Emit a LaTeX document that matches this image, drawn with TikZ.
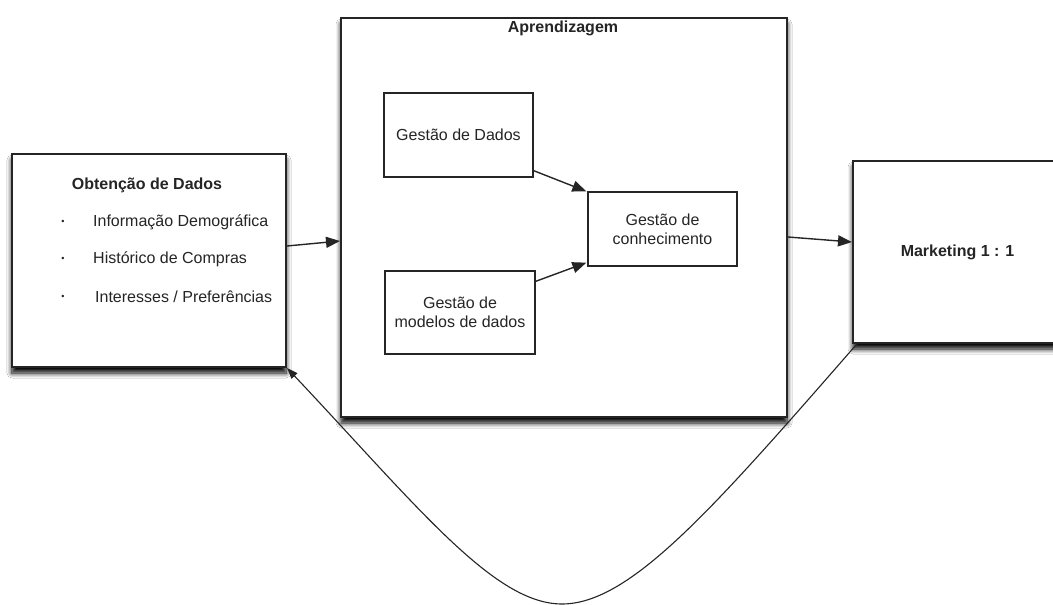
\documentclass[tikz,border=0pt]{standalone}
\usepackage{fontspec}
\setmainfont{Liberation Sans}
\usetikzlibrary{arrows.meta,shadows.blur}
\definecolor{ink}{HTML}{252525}
\begin{document}
\begin{tikzpicture}[x=1pt,y=-1pt,
  font=\fontsize{16}{19}\selectfont,
  outerbox/.style={draw=ink,line width=2pt,fill=white,rectangle,inner sep=0pt,
     blur shadow={shadow xshift=0pt,shadow yshift=-6pt,shadow blur radius=5pt,shadow opacity=100,shadow blur steps=8}},
  innerbox/.style={draw=ink,line width=1.3pt,fill=white,rectangle,inner sep=0pt,align=center,text=ink},
  conn/.style={draw=ink,line width=1.4pt,-{Triangle[length=14pt,width=11pt]}},
  backconn/.style={draw=ink,line width=1.1pt,-{Triangle[length=11pt,width=8pt]}},
  lbl/.style={text=ink,inner sep=0pt},
  bul/.style={text=ink,inner sep=0pt,font=\fontsize{9}{10}\selectfont},
  item/.style={text=ink,inner sep=0pt,anchor=west}
]
\useasboundingbox (0,0) rectangle (1053,605);
\clip (0,0) rectangle (1053,605);
\fill[white] (0,0) rectangle (1053,605);

% outer boxes
\node[outerbox,minimum width=274pt,minimum height=213pt] (L) at (149,260.5) {};
\node[outerbox,minimum width=446pt,minimum height=399pt] (A) at (564,217.5) {};
\node[outerbox,minimum width=209pt,minimum height=182pt,text=ink,font=\fontsize{16}{19}\selectfont\bfseries] (M) at (957.5,252) {Marketing 1 : 1};

% left box texts
\node[lbl,font=\fontsize{16}{19}\selectfont\bfseries] (Lt) at (147,185) {Obtenção de Dados};
\node[bul] (b1) at (63,222) {\textbullet};
\node[bul] (b2) at (63,259) {\textbullet};
\node[bul] (b3) at (63,297) {\textbullet};
\node[item] (i1) at (93,222) {Informação Demográfica};
\node[item] (i2) at (93,259) {Histórico de Compras};
\node[item] (i3) at (95,297) {Interesses / Preferências};

% middle box
\node[lbl,font=\fontsize{16}{19}\selectfont\bfseries] (At) at (563,28) {Aprendizagem};
\node[innerbox,minimum width=149pt,minimum height=84pt] (GD) at (458.5,135) {Gestão de Dados};
\node[innerbox,minimum width=150pt,minimum height=83pt] (GM) at (460,312.5) {Gestão de\\modelos de dados};
\node[innerbox,minimum width=149pt,minimum height=74pt] (GC) at (662.5,229) {Gestão de\\conhecimento};

% connectors
\draw[conn] ([yshift=14.5pt]L.east) -- ([yshift=-23.5pt]A.west);
\draw[conn] ([yshift=-19.5pt]A.east) -- ([yshift=10pt]M.west);
\draw[conn] ([yshift=7pt]GD.south east) -- ([xshift=-1pt]GC.north west);
\draw[conn] ([yshift=-11pt]GM.north east) -- ([xshift=-1pt,yshift=4pt]GC.south west);
\draw[backconn] ([xshift=4pt,yshift=-1pt]M.south west)
   .. controls (712,510) and (630,604) .. (562,604)
   .. controls (494,604) and (418,507) .. (L.south east);
\end{tikzpicture}
\end{document}
